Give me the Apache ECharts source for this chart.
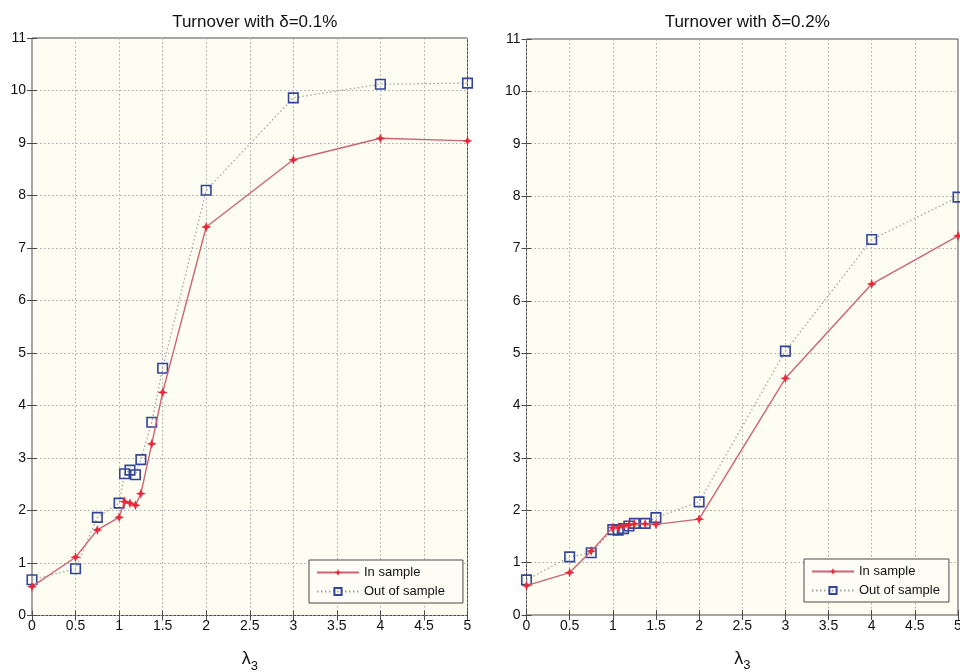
<!DOCTYPE html>
<html>
<head>
<meta charset="utf-8">
<title>Turnover</title>
<script src="https://cdn.jsdelivr.net/npm/echarts@6/dist/echarts.min.js"></script>
<style>
  html, body { margin: 0; padding: 0; background: #ffffff; }
  #chart { width: 960px; height: 672px; }
</style>
</head>
<body>
<div id="chart"></div>
<script>
// λ3 values at which turnover was evaluated
const lambda3 = [0, 0.5, 0.75, 1, 1.0625, 1.125, 1.1875, 1.25, 1.375, 1.5, 2, 3, 4, 5];

// Turnover, transaction cost δ = 0.1%
const inSample01  = [0.55, 1.11, 1.63, 1.87, 2.17, 2.14, 2.10, 2.32, 3.27, 4.25, 7.40, 8.68, 9.09, 9.04];
const outSample01 = [0.68, 0.89, 1.87, 2.14, 2.70, 2.77, 2.68, 2.97, 3.68, 4.71, 8.10, 9.86, 10.12, 10.14];

// Turnover, transaction cost δ = 0.2%
const inSample02  = [0.56, 0.81, 1.22, 1.67, 1.67, 1.70, 1.72, 1.74, 1.74, 1.73, 1.83, 4.52, 6.32, 7.24];
const outSample02 = [0.67, 1.11, 1.19, 1.63, 1.62, 1.65, 1.70, 1.75, 1.75, 1.86, 2.16, 5.04, 7.17, 7.98];

const panelTitles = ['Turnover with δ=0.1%', 'Turnover with δ=0.2%'];
const seriesNames = ['In sample', 'Out of sample'];

const FONT = '"Liberation Sans", Arial, Helvetica, sans-serif';
const FRAME = '#4a4a4a';
const PAPER = '#fdfdf1';
const GRIDLINE = '#a9a9a9';
const STAR = 'path://M0,-10 L2.8,-2.8 L10,0 L2.8,2.8 L0,10 L-2.8,2.8 L-10,0 L-2.8,-2.8 Z';

const zip = (xs, ys) => xs.map((x, i) => [x, ys[i]]);

const grids = [
  { left: 32, top: 38, width: 435.5, height: 577.5 },
  { left: 526.5, top: 39, width: 431.5, height: 576 }
];

function tickStyle() {
  return { show: true, inside: true, length: 5, lineStyle: { color: FRAME, width: 1 } };
}

const xAxes = [];
const yAxes = [];
grids.forEach((g, i) => {
  xAxes.push({
    gridIndex: i, type: 'value', position: 'bottom',
    min: 0, max: 5, interval: 0.5,
    axisLine: { show: false },
    axisTick: tickStyle(),
    axisLabel: { color: '#111', fontSize: 14, fontFamily: FONT, margin: 4 },
    splitLine: { show: true, lineStyle: { color: GRIDLINE, type: [1.5, 2.5], width: 1 } },
    name: '{l|λ}{s|3}',
    nameLocation: 'middle', nameGap: 35,
    nameTextStyle: {
      rich: {
        l: { fontSize: 18, fontFamily: FONT, color: '#111', verticalAlign: 'top', lineHeight: 22 },
        s: { fontSize: 13, fontFamily: FONT, color: '#111', verticalAlign: 'bottom', lineHeight: 22, padding: [8, 0, 0, 0] }
      }
    }
  });
  xAxes.push({
    gridIndex: i, type: 'value', position: 'top',
    min: 0, max: 5, interval: 0.5,
    axisLine: { show: false }, axisTick: tickStyle(),
    axisLabel: { show: false }, splitLine: { show: false }
  });
  yAxes.push({
    gridIndex: i, type: 'value', position: 'left',
    min: 0, max: 11, interval: 1,
    axisLine: { show: false },
    axisTick: tickStyle(),
    axisLabel: { color: '#111', fontSize: 14, fontFamily: FONT, margin: 6 },
    splitLine: { show: true, lineStyle: { color: GRIDLINE, type: [1.5, 2.5], width: 1 } }
  });
  yAxes.push({
    gridIndex: i, type: 'value', position: 'right',
    min: 0, max: 11, interval: 1,
    axisLine: { show: false }, axisTick: tickStyle(),
    axisLabel: { show: false }, splitLine: { show: false }
  });
});

function inSeries(idx, values) {
  return {
    name: seriesNames[0], type: 'line',
    xAxisIndex: idx * 2, yAxisIndex: idx * 2,
    data: zip(lambda3, values),
    symbol: STAR, symbolSize: 10, showAllSymbol: true,
    lineStyle: { color: '#cc6473', width: 1.4 },
    itemStyle: { color: '#e8293c' },
    z: 3
  };
}
function outSeries(idx, values) {
  return {
    name: seriesNames[1], type: 'line',
    xAxisIndex: idx * 2, yAxisIndex: idx * 2,
    data: zip(lambda3, values),
    symbol: 'rect', symbolSize: 9.5, showAllSymbol: true,
    lineStyle: { color: '#a4a4a4', width: 1.3, type: [1.5, 2.5] },
    itemStyle: { color: 'rgba(0,0,0,0)', borderColor: '#33449a', borderWidth: 1.6 },
    z: 2
  };
}

const legendBoxes = [
  { left: 309, top: 560, padding: [6, 18, 5, 7] },
  { left: 804, top: 559, padding: [6, 9, 5, 7] }
];

const option = {
  backgroundColor: '#ffffff',
  animation: false,
  title: grids.map((g, i) => ({
    text: panelTitles[i],
    left: g.left + g.width / 2, top: 9, textAlign: 'center',
    textStyle: { fontSize: 17, fontWeight: 'normal', color: '#111', fontFamily: FONT }
  })),
  grid: grids.map(g => Object.assign({
    show: true, backgroundColor: PAPER, borderColor: FRAME, borderWidth: 1,
    containLabel: false, outerBoundsMode: 'none'
  }, g)),
  xAxis: xAxes,
  yAxis: yAxes,
  legend: legendBoxes.map(p => ({
    data: seriesNames,
    orient: 'vertical',
    left: p.left, top: p.top,
    backgroundColor: '#fdfdf6',
    borderColor: FRAME, borderWidth: 1, borderRadius: 0,
    padding: p.padding,
    itemGap: 6, itemWidth: 42, itemHeight: 9,
    textStyle: { fontSize: 13, color: '#111', fontFamily: FONT },
    selectedMode: false
  })),
  series: [
    inSeries(0, inSample01), outSeries(0, outSample01),
    inSeries(1, inSample02), outSeries(1, outSample02)
  ]
};

const chart = echarts.init(document.getElementById('chart'), null, { renderer: 'canvas' });
chart.setOption(option);
</script>
</body>
</html>
